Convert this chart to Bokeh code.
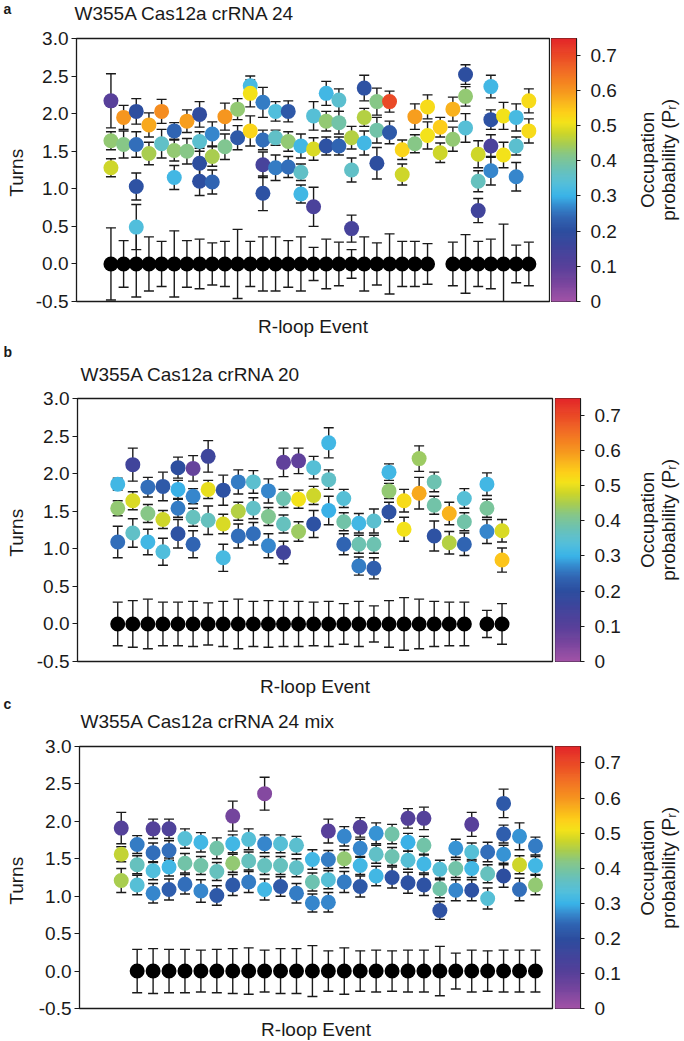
import numpy as np
from bokeh.plotting import figure
from bokeh.models import (ColumnDataSource, LinearColorMapper, Label, FixedTicker,
                          PrintfTickFormatter, Range1d)
from bokeh.transform import transform
from bokeh.layouts import column, row
from bokeh.embed import file_html
from bokeh.resources import INLINE

FONT = "Liberation Sans"
INK = "#1a1a1a"

# ------------------------------------------------------------------ data
titles = ["W355A Cas12a crRNA 24", "W355A Cas12a crRNA 20", "W355A Cas12a crRNA 24 mix"]
letters = ["a", "b", "c"]
x_label = "R-loop Event"
y_label = "Turns"
cbar_title = ["Occupation", "probability (P\u1d63)"]
turn_ticks = [-0.5, 0.0, 0.5, 1.0, 1.5, 2.0, 2.5, 3.0]
cbar_ticks = [0, 0.1, 0.2, 0.3, 0.4, 0.5, 0.6, 0.7]
CBAR_MAX = 0.747

# panel a
a_event = [0, 0, 0, 1, 1, 2, 2, 2, 2, 3, 3, 4, 4, 5, 5, 5, 6, 6, 7, 7, 7, 7, 8, 8, 8,
           9, 9, 10, 10, 11, 11, 11, 12, 12, 12, 12, 13, 13, 13, 14, 14, 14, 15, 15, 15,
           16, 16, 16, 17, 17, 17, 18, 18, 18, 19, 19, 19, 20, 20, 20, 21, 21, 21, 22, 22,
           23, 23, 24, 24, 25, 25, 26, 26, 27, 27, 28, 28, 28, 29, 29, 29, 30, 30, 30, 30,
           31, 31, 32, 32, 32, 33, 33]
a_turns = [2.17, 1.64, 1.28, 1.95, 1.59, 2.03, 1.59, 1.03, 0.49, 1.85, 1.47, 2.03, 1.60,
           1.77, 1.51, 1.15, 1.90, 1.50, 1.99, 1.63, 1.34, 1.10, 1.73, 1.43, 1.09,
           1.96, 1.56, 2.06, 1.68, 2.37, 2.27, 1.77, 2.15, 1.65, 1.32, 0.94, 2.03, 1.68, 1.28,
           2.03, 1.63, 1.29, 1.57, 1.22, 0.93, 1.97, 1.53, 0.76, 2.27, 1.90, 1.57,
           2.18, 1.88, 1.57, 1.68, 1.25, 0.47, 2.34, 1.95, 1.61, 2.16, 1.78, 1.34, 2.16, 1.75,
           1.52, 1.19, 1.96, 1.60, 2.09, 1.71, 1.82, 1.48, 2.06, 1.66, 2.52, 2.23, 1.81,
           1.46, 1.10, 0.71, 2.36, 1.92, 1.57, 1.24, 1.97, 1.45, 1.95, 1.57, 1.16, 2.17, 1.77]
a_err = [0.36, 0.12, 0.12, 0.16, 0.18, 0.17, 0.17, 0.18, 0.30, 0.16, 0.15, 0.16, 0.19,
         0.11, 0.14, 0.16, 0.15, 0.17, 0.17, 0.13, 0.20, 0.19, 0.16, 0.13, 0.16,
         0.18, 0.17, 0.14, 0.16, 0.13, 0.18, 0.20, 0.20, 0.13, 0.17, 0.23, 0.13, 0.10, 0.17,
         0.14, 0.13, 0.14, 0.16, 0.11, 0.12, 0.19, 0.15, 0.26, 0.16, 0.13, 0.12,
         0.15, 0.15, 0.12, 0.15, 0.16, 0.18, 0.17, 0.12, 0.16, 0.18, 0.17, 0.21, 0.14, 0.15,
         0.13, 0.14, 0.17, 0.12, 0.16, 0.18, 0.13, 0.13, 0.16, 0.16, 0.13, 0.13, 0.19,
         0.18, 0.14, 0.16, 0.15, 0.13, 0.15, 0.19, 0.18, 0.17, 0.18, 0.12, 0.19, 0.16, 0.16]
a_prob = [0.10, 0.43, 0.48, 0.60, 0.42, 0.20, 0.25, 0.21, 0.33, 0.58, 0.45, 0.61, 0.36,
          0.24, 0.43, 0.31, 0.59, 0.42, 0.19, 0.35, 0.20, 0.20, 0.27, 0.45, 0.24,
          0.60, 0.41, 0.43, 0.22, 0.32, 0.51, 0.53, 0.26, 0.25, 0.14, 0.21, 0.33, 0.36, 0.26,
          0.22, 0.43, 0.25, 0.31, 0.36, 0.31, 0.34, 0.49, 0.13, 0.31, 0.43, 0.21,
          0.35, 0.39, 0.24, 0.46, 0.36, 0.14, 0.21, 0.46, 0.31, 0.42, 0.39, 0.20, 0.70, 0.22,
          0.53, 0.48, 0.59, 0.42, 0.52, 0.51, 0.54, 0.48, 0.57, 0.43, 0.20, 0.43, 0.34,
          0.48, 0.37, 0.15, 0.31, 0.21, 0.13, 0.27, 0.51, 0.51, 0.32, 0.35, 0.27, 0.52, 0.52]
a_black_event = [0, 1, 2, 3, 4, 5, 6, 7, 8, 9, 10, 11, 12, 13, 14, 15, 16, 17, 18, 19, 20,
                 21, 22, 23, 24, 25, 27, 28, 29, 30, 31, 32, 33]
a_black_err = [0.48, 0.31, 0.44, 0.36, 0.30, 0.44, 0.31, 0.33, 0.28, 0.30, 0.46, 0.30, 0.36,
               0.36, 0.31, 0.36, 0.22, 0.33, 0.29, 0.19, 0.36, 0.28, 0.40, 0.30, 0.30, 0.27,
               0.29, 0.39, 0.30, 0.33, 0.53, 0.25, 0.29]

# panel b
b_event = [0, 0, 0, 1, 1, 1, 2, 2, 2, 3, 3, 3, 4, 4, 4, 4, 5, 5, 5, 5, 6, 6, 6, 7, 7, 7,
           8, 8, 8, 9, 9, 9, 10, 10, 10, 11, 11, 11, 11, 12, 12, 12, 13, 13, 13, 14, 14, 14,
           15, 15, 15, 16, 16, 16, 17, 17, 17, 18, 18, 18, 19, 19, 20, 20, 21, 21, 21, 22, 22,
           23, 23, 23, 24.5, 24.5, 24.5, 25.5, 25.5]
b_turns = [1.86, 1.54, 1.09, 2.12, 1.64, 1.21, 1.82, 1.47, 1.09, 1.83, 1.39, 0.96,
           2.08, 1.79, 1.54, 1.20, 2.07, 1.70, 1.42, 1.06, 2.23, 1.79, 1.38, 1.78, 1.33, 0.88,
           1.89, 1.50, 1.17, 1.89, 1.54, 1.20, 1.77, 1.43, 1.04, 2.15, 1.67, 1.33, 0.95,
           2.17, 1.66, 1.23, 2.08, 1.71, 1.33, 2.41, 1.92, 1.51, 1.67, 1.36, 1.06,
           1.34, 1.06, 0.77, 1.37, 1.06, 0.74, 2.02, 1.77, 1.49, 1.64, 1.26, 2.20, 1.74,
           1.89, 1.58, 1.17, 1.47, 1.08, 1.67, 1.36, 1.06, 1.86, 1.54, 1.23, 1.24, 0.85]
b_err = [0.08, 0.10, 0.21, 0.22, 0.12, 0.19, 0.13, 0.12, 0.17, 0.19, 0.12, 0.18,
         0.14, 0.12, 0.12, 0.19, 0.17, 0.10, 0.12, 0.18, 0.21, 0.12, 0.19, 0.20, 0.13, 0.18,
         0.16, 0.12, 0.16, 0.15, 0.14, 0.15, 0.16, 0.12, 0.16, 0.19, 0.12, 0.12, 0.15,
         0.17, 0.12, 0.13, 0.15, 0.12, 0.18, 0.20, 0.13, 0.19, 0.12, 0.12, 0.14,
         0.13, 0.12, 0.12, 0.16, 0.12, 0.14, 0.11, 0.10, 0.13, 0.15, 0.16, 0.17, 0.21,
         0.13, 0.12, 0.20, 0.15, 0.15, 0.13, 0.12, 0.15, 0.15, 0.12, 0.16, 0.15, 0.16]
b_prob = [0.31, 0.43, 0.25, 0.15, 0.49, 0.36, 0.25, 0.42, 0.31, 0.22, 0.48, 0.33,
          0.20, 0.30, 0.26, 0.21, 0.08, 0.27, 0.37, 0.24, 0.16, 0.50, 0.37, 0.21, 0.49, 0.32,
          0.26, 0.46, 0.25, 0.35, 0.36, 0.25, 0.27, 0.41, 0.27, 0.09, 0.38, 0.37, 0.15,
          0.09, 0.51, 0.44, 0.34, 0.48, 0.21, 0.31, 0.36, 0.30, 0.34, 0.39, 0.24,
          0.31, 0.38, 0.26, 0.35, 0.38, 0.23, 0.31, 0.43, 0.21, 0.52, 0.51, 0.44, 0.58,
          0.38, 0.39, 0.21, 0.57, 0.46, 0.34, 0.39, 0.24, 0.31, 0.40, 0.27, 0.49, 0.55]
b_black_event = [0, 1, 2, 3, 4, 5, 6, 7, 8, 9, 10, 11, 12, 13, 14, 15, 16, 17, 18, 19, 20,
                 21, 22, 23, 24.5, 25.5]
b_black_err = [0.29, 0.31, 0.33, 0.29, 0.29, 0.30, 0.28, 0.30, 0.33, 0.30, 0.31, 0.30, 0.30,
               0.29, 0.30, 0.27, 0.30, 0.24, 0.31, 0.35, 0.33, 0.30, 0.29, 0.29, 0.18, 0.27]

# panel c
c_event = [0, 0, 0, 1, 1, 1, 2, 2, 2, 2, 3, 3, 3, 3, 4, 4, 4, 5, 5, 5, 6, 6, 6, 7, 7, 7, 7,
           8, 8, 8, 9, 9, 9, 9, 10, 10, 10, 11, 11, 11, 12, 12, 12, 13, 13, 13, 13,
           14, 14, 14, 15, 15, 15, 15, 16, 16, 16, 17, 17, 17, 18, 18, 18, 18, 19, 19, 19, 19,
           20, 20, 20, 21, 21, 21, 22, 22, 22, 22, 23, 23, 23, 24, 24, 24, 24, 25, 25, 25,
           26, 26, 26]
c_turns = [1.91, 1.56, 1.21, 1.69, 1.42, 1.15, 1.90, 1.58, 1.34, 1.04, 1.90, 1.61, 1.39, 1.09,
           1.77, 1.44, 1.16, 1.72, 1.41, 1.07, 1.64, 1.33, 1.01, 2.07, 1.70, 1.44, 1.15,
           1.76, 1.47, 1.19, 2.37, 1.70, 1.41, 1.09, 1.70, 1.41, 1.13, 1.68, 1.38, 1.04,
           1.49, 1.19, 0.91, 1.87, 1.49, 1.22, 0.92, 1.80, 1.50, 1.19, 1.92, 1.64, 1.41, 1.13,
           1.84, 1.56, 1.27, 1.83, 1.53, 1.25, 2.04, 1.72, 1.48, 1.18, 2.04, 1.68, 1.43, 1.15,
           1.36, 1.10, 0.81, 1.64, 1.37, 1.08, 1.96, 1.59, 1.37, 1.08, 1.59, 1.30, 0.97,
           2.24, 1.83, 1.56, 1.27, 1.80, 1.42, 1.09, 1.67, 1.41, 1.15]
c_err = [0.21, 0.10, 0.16, 0.12, 0.12, 0.13, 0.13, 0.13, 0.12, 0.13, 0.13, 0.13, 0.12, 0.14,
         0.13, 0.13, 0.13, 0.13, 0.12, 0.15, 0.14, 0.12, 0.13, 0.20, 0.12, 0.12, 0.14,
         0.14, 0.12, 0.14, 0.22, 0.12, 0.12, 0.14, 0.12, 0.12, 0.13, 0.12, 0.12, 0.13,
         0.13, 0.12, 0.12, 0.16, 0.12, 0.12, 0.13, 0.13, 0.12, 0.14, 0.13, 0.12, 0.12, 0.14,
         0.14, 0.12, 0.13, 0.13, 0.12, 0.14, 0.13, 0.12, 0.12, 0.14, 0.15, 0.12, 0.12, 0.14,
         0.12, 0.12, 0.12, 0.12, 0.12, 0.14, 0.16, 0.12, 0.12, 0.14, 0.13, 0.12, 0.14,
         0.19, 0.12, 0.12, 0.15, 0.18, 0.12, 0.15, 0.12, 0.12, 0.13]
c_prob = [0.11, 0.47, 0.45, 0.26, 0.37, 0.34, 0.11, 0.25, 0.33, 0.27, 0.12, 0.25, 0.31, 0.23,
          0.34, 0.39, 0.25, 0.31, 0.39, 0.27, 0.39, 0.37, 0.22, 0.06, 0.31, 0.43, 0.22,
          0.34, 0.37, 0.26, 0.04, 0.27, 0.37, 0.31, 0.34, 0.37, 0.22, 0.35, 0.36, 0.26,
          0.31, 0.38, 0.27, 0.10, 0.26, 0.34, 0.27, 0.27, 0.43, 0.26, 0.11, 0.27, 0.31, 0.22,
          0.28, 0.36, 0.31, 0.39, 0.38, 0.21, 0.11, 0.30, 0.34, 0.21, 0.11, 0.39, 0.31, 0.21,
          0.34, 0.39, 0.21, 0.28, 0.39, 0.27, 0.10, 0.34, 0.31, 0.21, 0.25, 0.37, 0.34,
          0.22, 0.23, 0.28, 0.20, 0.28, 0.48, 0.25, 0.26, 0.31, 0.43]
c_black_event = [1, 2, 3, 4, 5, 6, 7, 8, 9, 10, 11, 12, 13, 14, 15, 16, 17, 18, 19, 20,
                 21, 22, 23, 24, 25, 26]
c_black_err = [0.29, 0.30, 0.29, 0.29, 0.28, 0.29, 0.30, 0.31, 0.28, 0.30, 0.30, 0.34, 0.27,
               0.31, 0.27, 0.28, 0.27, 0.28, 0.28, 0.33, 0.24, 0.28, 0.27, 0.28, 0.28, 0.28]

# ------------------------------------------------------------------ colour map (rainbow bar)
anchors = [(0.00, "#a253a7"), (0.05, "#7a469e"), (0.10, "#58409a"), (0.15, "#41449b"),
           (0.20, "#2d4e9f"), (0.24, "#3064b2"), (0.27, "#3687cc"), (0.30, "#3ab3e8"),
           (0.33, "#50bedd"), (0.36, "#61c0c7"), (0.39, "#72c3a8"), (0.42, "#88c786"),
           (0.45, "#a8cd50"), (0.48, "#cdd62a"), (0.51, "#f3e21a"), (0.54, "#fdcf1a"),
           (0.57, "#f9b31d"), (0.60, "#f6961f"), (0.65, "#f27124"), (0.70, "#ea4a27"),
           (0.75, "#e3272a")]


def _rgb(h):
    return [int(h[i:i + 2], 16) for i in (1, 3, 5)]


_av = np.array([a[0] for a in anchors])
_ac = np.array([_rgb(a[1]) for a in anchors], dtype=float)
_vals = np.linspace(0, CBAR_MAX, 256)
palette = ["#%02x%02x%02x" % tuple(int(round(np.interp(v, _av, _ac[:, k]))) for k in range(3))
           for v in _vals]
mapper = LinearColorMapper(palette=palette, low=0, high=CBAR_MAX)

# ------------------------------------------------------------------ layout settings (page pixels)
TOTAL_W = 683
TURNS_W = 28
CB_W = 25
CB_RB = 45
# frame geometry of each panel: left border inside main figure, frame width, colour-bar
# figure start, borders above/below the frame, frame height, data x-range
cfgs = [
    dict(L=48, W=473, CBX=550, T=11, FH=263, B=11, xr=(-2.72, 34.63)),
    dict(L=49, W=475, CBX=554, T=11, FH=263, B=11, xr=(-2.67, 28.85)),
    dict(L=51, W=473, CBX=554, T=11, FH=262, B=10, xr=(-2.62, 27.07)),
]
# text strips between the panels: (height, [(x, y_center_from_strip_top, text, size, bold, align)])
strips = [
    (27, [(3, 8, letters[0], "14px", True, "left"), (74, 13, titles[0], "19px", False, "left")]),
    (75, [(None, 14, x_label, "19px", False, "center"),
          (3, 39, letters[1], "14px", True, "left"), (80, 61.5, titles[1], "19px", False, "left")]),
    (63, [(None, 14, x_label, "19px", False, "center"),
          (3, 31, letters[2], "14px", True, "left"), (80, 49, titles[2], "19px", False, "left")]),
    (22, [(None, 11, x_label, "19px", False, "center")]),
]


def text_label(x, y, text, size="19px", align="left", angle=0.0, bold=False):
    return Label(x=x, y=y, text=text, text_font=FONT, text_font_size=size, text_color=INK,
                 text_align=align, text_baseline="middle", angle=angle,
                 text_font_style="bold" if bold else "normal")


def blank_fig(w, h):
    p = figure(width=w, height=h, x_range=Range1d(0, w), y_range=Range1d(0, h),
               x_axis_location=None, y_axis_location=None,
               min_border_left=0, min_border_right=0, min_border_top=0, min_border_bottom=0,
               title=None, output_backend="svg", toolbar_location=None)
    p.grid.visible = False
    p.outline_line_color = None
    p.background_fill_color = "white"
    p.border_fill_color = "white"
    return p


def strip_fig(k, frame_center):
    h, items = strips[k]
    p = blank_fig(TOTAL_W, h)
    for (x, yc, text, size, bold, align) in items:
        xx = frame_center if x is None else x
        p.add_layout(text_label(xx, h - yc, text, size=size, align=align, bold=bold))
    return p


def main_fig(i, ev, tu, er, pr, bev, ber):
    cfg = cfgs[i]
    w = cfg["CBX"] - TURNS_W
    h = cfg["T"] + cfg["FH"] + cfg["B"]
    p = figure(width=w, height=h,
               x_range=Range1d(*cfg["xr"]), y_range=Range1d(-0.5, 3.0),
               x_axis_location=None,
               min_border_left=cfg["L"], min_border_right=w - cfg["L"] - cfg["W"],
               min_border_top=cfg["T"], min_border_bottom=cfg["B"],
               title=None, output_backend="svg", toolbar_location=None)
    p.grid.visible = False
    p.outline_line_color = INK
    p.outline_line_width = 1.3
    p.background_fill_color = "white"
    p.border_fill_color = "white"

    ax = p.yaxis[0]
    ax.ticker = FixedTicker(ticks=turn_ticks)
    ax.formatter = PrintfTickFormatter(format="%.1f")
    ax.major_tick_out = 5
    ax.major_tick_in = 0
    ax.minor_tick_line_color = None
    ax.axis_line_color = INK
    ax.major_tick_line_color = INK
    ax.major_label_standoff = 3
    ax.major_label_text_font = FONT
    ax.major_label_text_font_size = "19px"
    ax.major_label_text_color = INK

    tu = np.array(tu, dtype=float)
    er = np.array(er, dtype=float)
    src = ColumnDataSource(dict(x=ev, y=tu, lo=tu - er, hi=tu + er, prob=pr))
    bz = np.zeros(len(bev))
    be = np.array(ber, dtype=float)
    bsrc = ColumnDataSource(dict(x=bev, y=bz, lo=bz - be, hi=bz + be))

    for s in (bsrc, src):
        p.segment(x0="x", y0="lo", x1="x", y1="hi", source=s, line_color=INK, line_width=1.4)
        p.scatter(x="x", y="lo", marker="dash", size=10, source=s, line_color=INK, line_width=1.4)
        p.scatter(x="x", y="hi", marker="dash", size=10, source=s, line_color=INK, line_width=1.4)
    p.scatter(x="x", y="y", source=bsrc, size=15, fill_color="black", line_color=None)
    p.scatter(x="x", y="y", source=src, size=15,
              fill_color=transform("prob", mapper), line_color=None)
    return p


def cbar_fig(i):
    cfg = cfgs[i]
    w = 1 + CB_W + CB_RB
    h = cfg["T"] + cfg["FH"] + cfg["B"]
    p = figure(width=w, height=h, x_range=Range1d(0, 1), y_range=Range1d(0, CBAR_MAX),
               x_axis_location=None, y_axis_location="right",
               min_border_left=1, min_border_right=CB_RB,
               min_border_top=cfg["T"], min_border_bottom=cfg["B"],
               title=None, output_backend="svg", toolbar_location=None)
    p.grid.visible = False
    p.outline_line_color = INK
    p.outline_line_width = 1.2
    p.border_fill_color = "white"
    edges = np.linspace(0, CBAR_MAX, len(palette) + 1)
    s = ColumnDataSource(dict(bottom=edges[:-1], top=edges[1:], c=palette))
    p.quad(left=0, right=1, bottom="bottom", top="top", fill_color="c", line_color="c", source=s)

    ax = p.yaxis[0]
    ax.ticker = FixedTicker(ticks=cbar_ticks)
    ax.formatter = PrintfTickFormatter(format="%.1f")
    ax.major_label_overrides = {0: "0"}
    ax.major_tick_out = 4
    ax.major_tick_in = 0
    ax.minor_tick_line_color = None
    ax.axis_line_color = INK
    ax.major_tick_line_color = INK
    ax.major_label_standoff = 10
    ax.major_label_text_font = FONT
    ax.major_label_text_font_size = "19px"
    ax.major_label_text_color = INK
    return p


def panel_row(i, data):
    cfg = cfgs[i]
    h = cfg["T"] + cfg["FH"] + cfg["B"]
    mid_y = cfg["B"] + cfg["FH"] / 2

    turns = blank_fig(TURNS_W, h)
    turns.add_layout(text_label(16, mid_y - 3, y_label, align="center", angle=np.pi / 2))

    main = main_fig(i, *data)
    cbar = cbar_fig(i)

    cbt_left = cfg["CBX"] + cbar.width
    cbt = blank_fig(TOTAL_W - cbt_left, h)
    for j, t in enumerate(cbar_title):
        cbt.add_layout(text_label(647 + 21 * j - cbt_left, mid_y + 11, t, align="center",
                                  angle=np.pi / 2))
    return row(turns, main, cbar, cbt, spacing=0)


def frame_center(i):
    return TURNS_W + cfgs[i]["L"] + cfgs[i]["W"] / 2


panels = [
    (a_event, a_turns, a_err, a_prob, a_black_event, a_black_err),
    (b_event, b_turns, b_err, b_prob, b_black_event, b_black_err),
    (c_event, c_turns, c_err, c_prob, c_black_event, c_black_err),
]
items = [strip_fig(0, frame_center(0))]
for i in range(3):
    items.append(panel_row(i, panels[i]))
    items.append(strip_fig(i + 1, frame_center(i)))
layout = column(*items, spacing=0)

open("out.html", "w").write(file_html(layout, INLINE))
